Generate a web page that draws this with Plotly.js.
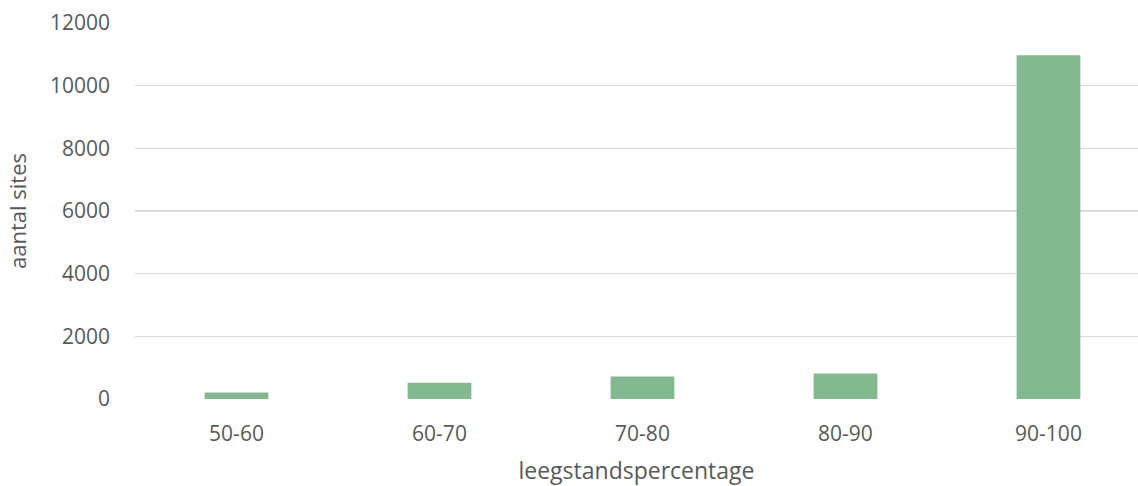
<!DOCTYPE html>
<html>
<head>
<meta charset="utf-8">
<script src="https://cdn.plot.ly/plotly-3.0.1.min.js"></script>
<style>
  html, body { margin: 0; padding: 0; background: #ffffff; }
  #chart { width: 1138px; height: 486px; }
</style>
</head>
<body>
<div id="chart"></div>
<script>
// Vacancy-rate bands and the number of sites in each band
const categories = ['50-60', '60-70', '70-80', '80-90', '90-100'];
const siteCounts = [210, 520, 720, 810, 10970];
const yTickValues = [0, 2000, 4000, 6000, 8000, 10000, 12000];

const textColor = '#595959';
const fontFamily = '"Open Sans", Lato, sans-serif';

const trace = {
  type: 'bar',
  x: categories,
  y: siteCounts,
  marker: { color: '#84b891', line: { width: 0 } },
  hoverinfo: 'x+y'
};

const layout = {
  width: 1138,
  height: 486,
  margin: { l: 135, r: 0, t: 23, b: 87, pad: 0 },
  paper_bgcolor: '#ffffff',
  plot_bgcolor: '#ffffff',
  bargap: 0.686,
  showlegend: false,
  font: { family: fontFamily, color: textColor, size: 20 },
  xaxis: {
    type: 'category',
    range: [-0.5, 4.441],
    showgrid: false,
    zeroline: false,
    showline: false,
    ticks: '',
    ticklabelstandoff: 20,
    tickfont: { family: fontFamily, size: 21, color: textColor },
    title: {
      text: 'leegstandspercentage',
      font: { family: fontFamily, size: 23, color: textColor },
      standoff: 17
    }
  },
  yaxis: {
    range: [0, 12000],
    tickvals: yTickValues,
    ticktext: yTickValues.map(String),
    showgrid: true,
    gridcolor: '#d9d9d9',
    gridwidth: 1.5,
    zeroline: false,
    showline: false,
    ticks: '',
    ticklabelstandoff: 24,
    tickfont: { family: fontFamily, size: 21, color: textColor },
    title: {
      text: 'aantal sites',
      font: { family: fontFamily, size: 22, color: textColor },
      standoff: 17
    }
  }
};

Plotly.newPlot('chart', [trace], layout, { displayModeBar: false, staticPlot: true });
</script>
</body>
</html>
